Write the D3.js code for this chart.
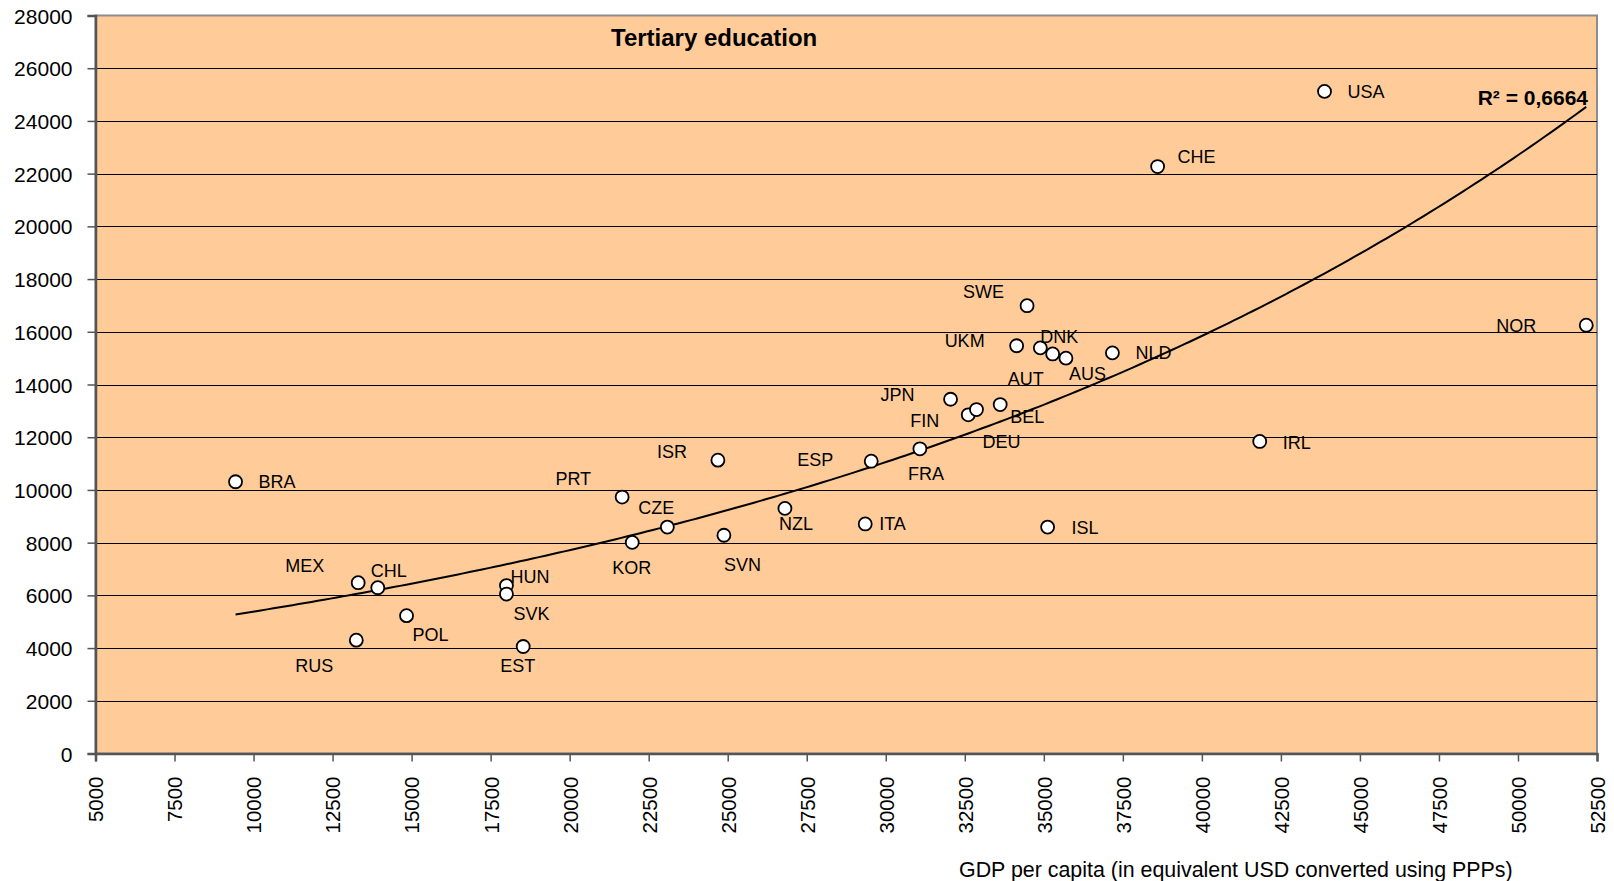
<!DOCTYPE html>
<html>
<head>
<meta charset="utf-8">
<script src="https://cdn.jsdelivr.net/npm/d3@7"></script>
<style>
  body { margin: 0; background: #fff; }
  svg text { font-family: "Liberation Sans", Arial, sans-serif; fill: #000; }
</style>
</head>
<body>
<svg id="chart" width="1614" height="881"></svg>
<script>
// countries, GDP per capita (USD PPP) and tertiary expenditure per student
const countries = ["BRA", "MEX", "CHL", "RUS", "POL", "HUN", "SVK", "EST", "PRT", "KOR",
  "CZE", "ISR", "SVN", "NZL", "ITA", "ESP", "FRA", "JPN", "FIN", "DEU", "BEL", "UKM",
  "SWE", "DNK", "AUT", "AUS", "ISL", "NLD", "CHE", "IRL", "USA", "NOR"];
const gdp = [9430, 13310, 13930, 13250, 14840, 18000, 18000, 18530, 21660, 21980,
  23090, 24690, 24880, 26810, 29350, 29540, 31080, 32050, 32610, 32870, 33620, 34140,
  34470, 34890, 35280, 35700, 35120, 37170, 38600, 41830, 43880, 52160];
const spending = [10310, 6480, 6290, 4300, 5230, 6370, 6050, 4060, 9730, 8010,
  8590, 11130, 8280, 9300, 8710, 11090, 11560, 13440, 12850, 13050, 13240, 15470,
  16990, 15390, 15160, 15000, 8590, 15200, 22270, 11840, 25120, 16250];
const xTicks = d3.range(5000, 52501, 2500);
const yTicks = d3.range(0, 28001, 2000);
const chartTitle = "Tertiary education";
const xTitle = "GDP per capita (in equivalent USD converted using PPPs)";
const rSquaredLabel = "R² = 0,6664";

// manual label placement (anchor, dx, dy in px from the marker)
const labelPlacement = {
  BRA: ["start", 23, 0], MEX: ["end", -34, -17], CHL: ["start", -7, -17],
  RUS: ["end", -23, 25], POL: ["start", 6, 19], HUN: ["start", 4, -9],
  SVK: ["start", 7, 19], EST: ["start", -23, 19], PRT: ["end", -31, -19],
  KOR: ["start", -20, 25], CZE: ["start", -29, -20], ISR: ["end", -31, -9],
  SVN: ["start", 0, 29], NZL: ["start", -6, 15], ITA: ["start", 14, 0],
  ESP: ["end", -38, -2], FRA: ["start", -12, 25], JPN: ["end", -36, -5],
  FIN: ["end", -29, 6], DEU: ["start", 6, 32], BEL: ["start", 10, 12],
  AUT: ["start", -45, 25], AUS: ["start", 3, 15], DNK: ["start", 0, -11],
  UKM: ["end", -32, -5], SWE: ["end", -23, -14], ISL: ["start", 24, 0],
  NLD: ["start", 23, 0], CHE: ["start", 20, -10], IRL: ["start", 23, 1],
  USA: ["start", 23, 0], NOR: ["end", -50, 0]
};

const svg = d3.select("#chart");
const plot = { left: 95.5, right: 1597, top: 15.5, bottom: 753.5 };

const x = d3.scaleLinear().domain([5000, 52500]).range([plot.left, plot.right]);
const y = d3.scaleLinear().domain([0, 28000]).range([plot.bottom, plot.top]);

const points = countries.map((c, i) => ({ name: c, x: gdp[i], y: spending[i] }));

// plot background
svg.append("rect")
  .attr("x", plot.left).attr("y", plot.top)
  .attr("width", plot.right - plot.left).attr("height", plot.bottom - plot.top)
  .attr("fill", "#ffcc99")
  .attr("stroke", "#8c8c8c").attr("stroke-width", 2);

// horizontal gridlines
svg.append("g")
  .selectAll("line")
  .data(yTicks.filter((t) => t > 0 && t < 28000))
  .join("line")
  .attr("x1", plot.left).attr("x2", plot.right)
  .attr("y1", (d) => Math.round(y(d)) + 0.5).attr("y2", (d) => Math.round(y(d)) + 0.5)
  .attr("stroke", "#000").attr("stroke-width", 1);

// y axis
const yAxis = svg.append("g")
  .attr("transform", `translate(${plot.left},0)`)
  .call(d3.axisLeft(y).tickValues(yTicks).tickSize(8).tickPadding(15).tickFormat(d3.format("d")));
yAxis.select(".domain").attr("stroke", "#555").attr("stroke-width", 2.5);
yAxis.selectAll(".tick line").attr("stroke", "#555").attr("stroke-width", 1.5);
yAxis.selectAll("text").style("font-size", "21px").attr("dy", "0.36em");

// x axis
const xAxis = svg.append("g")
  .attr("transform", `translate(0,${plot.bottom})`)
  .call(d3.axisBottom(x).tickValues(xTicks).tickSize(8).tickFormat(d3.format("d")));
xAxis.select(".domain").attr("stroke", "#555").attr("stroke-width", 2.5);
xAxis.selectAll(".tick line").attr("stroke", "#555").attr("stroke-width", 1.5);
xAxis.selectAll("text")
  .style("font-size", "20.5px")
  .attr("text-anchor", "end")
  .attr("transform", "rotate(-90)")
  .attr("x", -23).attr("y", 0).attr("dy", "0.36em");

// exponential trendline (least squares on ln y, as Excel does)
function expFit(xs, ys) {
  const ly = ys.map((v) => Math.log(v));
  const mx = d3.mean(xs), my = d3.mean(ly);
  let sxy = 0, sxx = 0;
  xs.forEach((xv, i) => {
    sxy += (xv - mx) * (ly[i] - my);
    sxx += (xv - mx) * (xv - mx);
  });
  const b = sxy / sxx;
  const a = Math.exp(my - b * mx);
  return (xv) => a * Math.exp(b * xv);
}
const trend = expFit(gdp, spending);
const xExtent = d3.extent(gdp);
const trendXs = d3.range(xExtent[0], xExtent[1], 200).concat([xExtent[1]]);
svg.append("path")
  .datum(trendXs)
  .attr("fill", "none")
  .attr("stroke", "#000")
  .attr("stroke-width", 2)
  .attr("d", d3.line().x((d) => x(d)).y((d) => y(trend(d))));

// markers
svg.append("g")
  .selectAll("circle")
  .data(points)
  .join("circle")
  .attr("cx", (d) => x(d.x)).attr("cy", (d) => y(d.y))
  .attr("r", 6.5)
  .attr("fill", "#fff").attr("stroke", "#000").attr("stroke-width", 1.8);

// country labels
svg.append("g")
  .selectAll("text")
  .data(points)
  .join("text")
  .attr("x", (d) => x(d.x) + labelPlacement[d.name][1])
  .attr("y", (d) => y(d.y) + labelPlacement[d.name][2])
  .attr("dy", "0.36em")
  .attr("text-anchor", (d) => labelPlacement[d.name][0])
  .style("font-size", "18px")
  .text((d) => d.name);

// titles
svg.append("text")
  .attr("x", 611).attr("y", 46)
  .style("font-size", "24px").style("font-weight", "bold")
  .text(chartTitle);

svg.append("text")
  .attr("x", 1588).attr("y", 105)
  .attr("text-anchor", "end")
  .style("font-size", "21px").style("font-weight", "bold")
  .text(rSquaredLabel);

svg.append("text")
  .attr("x", 959).attr("y", 877)
  .style("font-size", "21.4px")
  .text(xTitle);
</script>
</body>
</html>
